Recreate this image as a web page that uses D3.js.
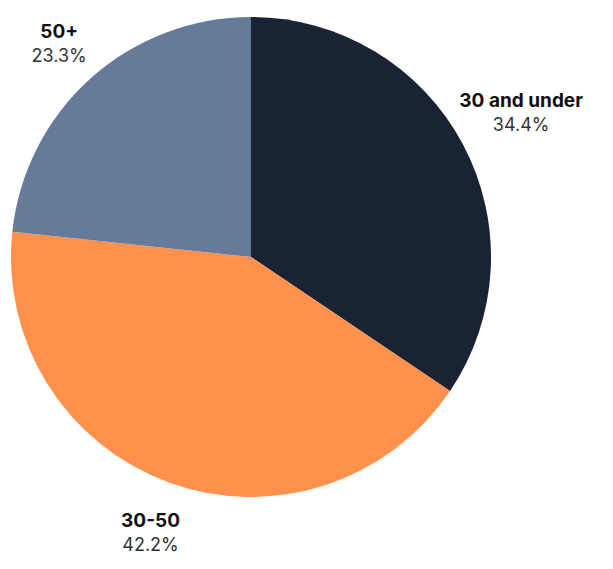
<!DOCTYPE html>
<html><head><meta charset="utf-8">
<script src="https://cdn.jsdelivr.net/npm/d3@7"></script>
<style>body{margin:0;background:#fff}svg{display:block}</style>
</head><body>
<script>
const categories = ["30 and under", "30-50", "50+"];
const values = [34.4, 42.2, 23.3];
const colors = ["#192334", "#ff914d", "#667b9a"];
const labelRadius = [1.275, 1.224, 1.195];

const W = 613, H = 569, cx = 251, cy = 257, r = 240;
const svg = d3.select("body").append("svg").attr("width", W).attr("height", H);
const data = categories.map((c, i) => ({c, v: values[i], col: colors[i], lr: labelRadius[i]}));
const pie = d3.pie().value(d => d.v).sort(null);
const arc = d3.arc().innerRadius(0).outerRadius(r);
const arcs = pie(data);
const g = svg.append("g").attr("transform", `translate(${cx},${cy})`);
g.selectAll("path").data(arcs).join("path").attr("d", arc).attr("fill", d => d.data.col);

const lab = svg.append("g").attr("transform", `translate(${cx},${cy})`)
  .style("font-family", "Inter, 'Open Sans', sans-serif");
arcs.forEach(a => {
  const R = r * a.data.lr;
  const [x, y] = d3.arc().innerRadius(R).outerRadius(R).centroid(a);
  lab.append("text").attr("text-anchor", "middle").attr("x", x).attr("y", y - 6)
    .style("font-weight", 700).style("font-size", "19px").attr("fill", "#111").text(a.data.c);
  lab.append("text").attr("text-anchor", "middle").attr("x", x).attr("y", y + 18)
    .style("font-size", "18px").attr("fill", "#333").text(a.data.v.toFixed(1) + "%");
});
</script>
</body></html>
